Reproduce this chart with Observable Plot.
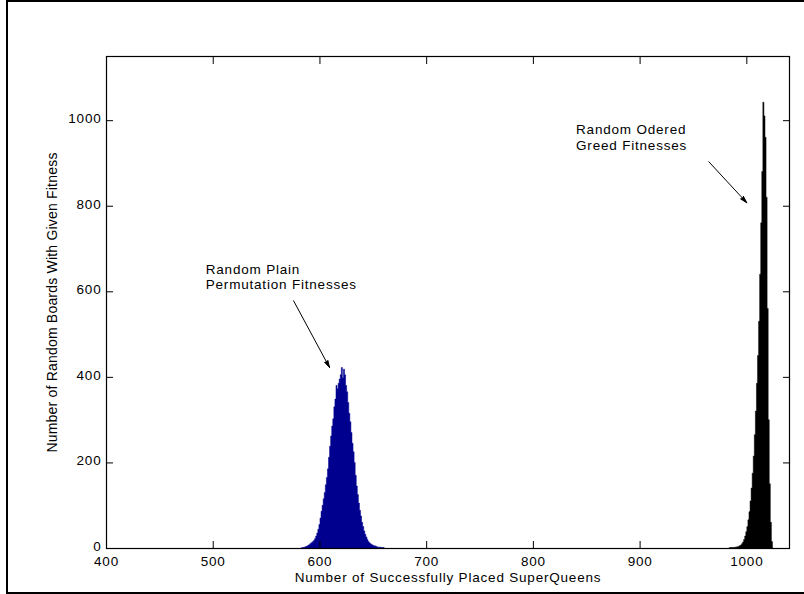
<!DOCTYPE html>
<html><head><meta charset="utf-8">
<script src="https://cdn.jsdelivr.net/npm/d3@7"></script>
<script src="https://cdn.jsdelivr.net/npm/@observablehq/plot@0.6"></script>
<style>
html,body{margin:0;padding:0;background:#fff;overflow:hidden;}
#wrap{position:relative;width:804px;height:594px;overflow:hidden;}
#border{position:absolute;left:6px;top:0;width:900px;height:594px;border:2px solid #000;box-sizing:border-box;pointer-events:none;}
#chart text{letter-spacing:0.8px;}
#chart g.ylab text{letter-spacing:0.2px;}
</style></head><body>
<div id="wrap"><div id="chart"></div><div id="border"></div></div>
<script>
// Random plain permutation fitnesses (value -> number of boards)
const plainValues = [584,585,586,587,588,589,590,591,592,593,594,595,596,597,598,599,600,601,602,603,604,605,606,607,608,609,610,611,612,613,614,615,616,617,618,619,620,621,622,623,624,625,626,627,628,629,630,631,632,633,634,635,636,637,638,639,640,641,642,643,644,645,646,647,648,649,650,651,652,653,654,655,656,657,658,660];
const plainCounts = [1,1,2,3,4,5,7,9,11,13,15,18,22,28,35,44,55,70,86,100,115,130,148,165,185,212,238,262,285,302,330,348,380,372,385,395,405,422,398,418,405,380,365,340,315,295,270,245,225,200,170,145,125,105,88,75,60,50,40,32,26,20,15,12,10,8,7,5,5,4,3,2,2,2,1,1];
// Random ordered greed fitnesses
const greedValues = [985,988,990,992,994,995,996,997,998,999,1000,1001,1002,1003,1004,1005,1006,1007,1008,1009,1010,1011,1012,1013,1014,1015,1016,1017,1018,1019,1020,1021,1022,1023,1024];
const greedCounts = [1,1,2,3,5,7,10,14,20,28,38,50,66,85,110,140,175,215,265,320,385,450,530,640,760,880,1042,1010,960,820,560,300,150,60,15];

const xTicks = [400,500,600,700,800,900,1000];
const yTicks = [0,200,400,600,800,1000];
const xLabel = "Number of Successfully Placed SuperQueens";
const yLabel = "Number of Random Boards With Given Fitness";

const noteText = ["Random Plain\nPermutation Fitnesses", "Random Odered\nGreed Fitnesses"];
const noteX = [493, 840];
const noteY = [666, 993];
const arrowX1 = [575.3, 964.4];
const arrowY1 = [579, 904];
const arrowX2 = [609, 1000];
const arrowY2 = [423, 808];

// histogram outline series with zero-height end points
function series(values, counts) {
  const s = values.map((v, i) => ({v, c: counts[i]}));
  return [{v: values[0] - 1, c: 0}, ...s, {v: values[values.length - 1] + 1, c: 0}];
}
const plain = series(plainValues, plainCounts);
const greed = series(greedValues, greedCounts);
const notes = noteText.map((t, i) => ({t, x: noteX[i], y: noteY[i]}));
const arrows = arrowX1.map((x1, i) => ({x1, y1: arrowY1[i], x2: arrowX2[i], y2: arrowY2[i]}));
const fmt = d3.format("d");

const chart = Plot.plot({
  width: 804,
  height: 594,
  marginLeft: 106,
  marginRight: 15,
  marginTop: 56,
  marginBottom: 46,
  style: {fontFamily: "'Liberation Sans', Arial, sans-serif", fontSize: "13.5px", background: "#fff", color: "#000"},
  x: {domain: [400, 1040]},
  y: {domain: [0, 1150]},
  marks: [
    Plot.areaY(plain, {x: "v", y: "c", curve: "step", fill: "#00008f", stroke: "#00008f", strokeWidth: 0.5}),
    Plot.areaY(greed, {x: "v", y: "c", curve: "step", fill: "#000", stroke: "#000", strokeWidth: 0.5}),
    Plot.axisX(xTicks, {anchor: "bottom", tickSize: 7, dy: -7, tickFormat: () => "", label: null}),
    Plot.axisX(xTicks, {anchor: "top", tickSize: 7, dy: 7, tickFormat: () => "", label: null}),
    Plot.axisY(yTicks, {anchor: "left", tickSize: 7, dx: 7, tickFormat: () => "", label: null}),
    Plot.axisY(yTicks, {anchor: "right", tickSize: 7, dx: -7, tickFormat: () => "", label: null}),
    Plot.axisX(xTicks, {anchor: "bottom", tickSize: 0, tickPadding: 8, tickFormat: fmt, label: null}),
    Plot.axisY(yTicks, {anchor: "left", tickSize: 0, tickPadding: 5, dy: -2, tickFormat: fmt, label: null}),
    Plot.frame({stroke: "#000", strokeWidth: 1.2}),
    Plot.text([xLabel], {frameAnchor: "bottom", textAnchor: "middle", lineAnchor: "middle", dy: 29, text: d => d}),
    Plot.text([yLabel], {frameAnchor: "left", textAnchor: "middle", lineAnchor: "middle", rotate: -90, dx: -54, text: d => d, fontSize: 14}),
    Plot.text(notes, {x: "x", y: "y", text: "t", textAnchor: "start", lineAnchor: "top", lineHeight: 1.12}),
    Plot.arrow(arrows, {x1: "x1", y1: "y1", x2: "x2", y2: "y2", stroke: "#000", strokeWidth: 1, headLength: 11, headAngle: 30})
  ]
});
document.getElementById("chart").appendChild(chart);
d3.select(chart).selectAll('g[aria-label="arrow"] path').attr("fill", "#000");
d3.select(chart).selectAll('g[aria-label="text"]').filter(function() {
  return d3.select(this).text() === yLabel;
}).classed("ylab", true);
</script>
</body></html>
